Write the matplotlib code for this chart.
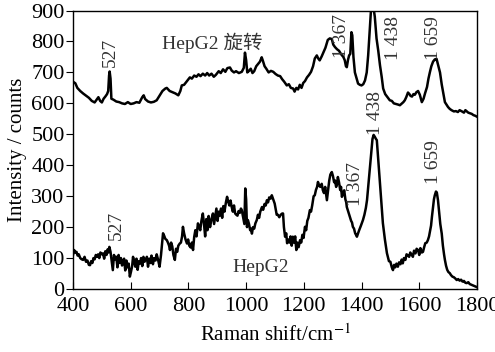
import matplotlib
matplotlib.use('Agg')
import matplotlib.pyplot as plt

plt.rcParams['font.family'] = ['Liberation Serif', 'Noto Sans CJK SC']
plt.rcParams['mathtext.fontset'] = 'stix'

# 上方曲线: HepG2 旋转
top_x = [400, 408, 415, 425, 435, 445, 455, 465, 475, 482, 488, 494, 500, 506, 512, 518, 522, 525, 527, 530,
         533, 540, 550, 560, 570, 580, 590, 600, 610, 620, 630, 640, 645, 650, 660, 670, 680, 690, 700, 710,
         720, 725, 735, 745, 755, 765, 772, 777, 785, 795, 805, 812, 820, 828, 835, 842, 850, 858, 865, 872,
         880, 888, 895, 905, 912, 920, 928, 935, 944, 950, 958, 965, 975, 985, 992, 996, 1000, 1004, 1010, 1016,
         1022, 1028, 1035, 1042, 1048, 1054, 1058, 1064, 1070, 1078, 1086, 1094, 1102, 1110, 1118, 1125, 1132, 1141, 1148, 1155,
         1163, 1168, 1174, 1180, 1186, 1192, 1198, 1204, 1211, 1218, 1225, 1232, 1238, 1245, 1250, 1255, 1262, 1268, 1275, 1283,
         1290, 1297, 1302, 1308, 1315, 1322, 1330, 1337, 1342, 1346, 1349, 1353, 1357, 1361, 1365, 1368, 1372, 1377, 1383, 1388,
         1394, 1400, 1406, 1412, 1418, 1423, 1428, 1433, 1440, 1446, 1452, 1458, 1464, 1470, 1475, 1482, 1490, 1498, 1505, 1512,
         1520, 1527, 1533, 1540, 1545, 1550, 1555, 1561, 1566, 1570, 1575, 1580, 1585, 1590, 1596, 1602, 1609, 1615, 1620, 1627,
         1632, 1637, 1642, 1648, 1654, 1660, 1665, 1672, 1678, 1684, 1689, 1695, 1700, 1706, 1712, 1720, 1727, 1734, 1740, 1748,
         1755, 1760, 1765, 1770, 1776, 1782, 1788, 1794, 1800]
top_y = [670, 665, 650, 640, 632, 625, 618, 608, 603, 612, 620, 608, 603, 615, 622, 630, 640, 690, 703, 680,
         615, 612, 606, 604, 600, 598, 604, 598, 600, 604, 602, 620, 626, 614, 606, 603, 605, 610, 625, 640,
         648, 650, 640, 636, 632, 626, 640, 658, 660, 672, 684, 680, 690, 686, 694, 688, 696, 690, 698, 690,
         696, 686, 692, 704, 698, 710, 702, 714, 716, 706, 700, 704, 698, 702, 715, 764, 740, 700, 705, 712,
         698, 704, 720, 728, 735, 749, 738, 720, 712, 700, 705, 702, 695, 690, 688, 678, 670, 658, 662, 650,
         648, 638, 650, 645, 660, 650, 666, 672, 684, 692, 702, 720, 745, 755, 745, 739, 752, 765, 780, 805,
         810, 808, 790, 782, 775, 770, 758, 750, 739, 720, 717, 740, 755, 760, 830, 820, 750, 700, 680, 664,
         660, 658, 662, 674, 700, 755, 830, 905, 920, 880, 810, 770, 723, 685, 648, 630, 620, 610, 608, 600,
         598, 596, 594, 600, 604, 610, 620, 635, 630, 624, 622, 630, 628, 636, 640, 628, 604, 615, 632, 653,
         680, 701, 720, 735, 742, 744, 726, 700, 661, 630, 604, 595, 588, 582, 578, 574, 575, 572, 578, 574,
         570, 578, 574, 570, 568, 566, 562, 560, 557]

# 下方曲线: HepG2
bot_x = [400, 404, 408, 412, 416, 420, 425, 430, 435, 440, 445, 450, 455, 459, 463, 467, 471, 475, 479, 483,
         487, 491, 495, 500, 504, 508, 512, 516, 520, 523, 526, 530, 534, 538, 542, 546, 550, 554, 558, 562,
         566, 570, 573, 577, 581, 585, 589, 593, 597, 601, 605, 608, 612, 616, 620, 624, 628, 632, 636, 640,
         644, 648, 652, 656, 660, 664, 668, 672, 677, 681, 686, 690, 695, 700, 705, 709, 712, 716, 720, 725,
         729, 733, 736, 740, 744, 748, 753, 757, 761, 765, 770, 774, 778, 781, 785, 790, 795, 799, 803, 808,
         812, 816, 820, 824, 828, 833, 837, 841, 845, 850, 854, 858, 862, 866, 870, 875, 880, 885, 889, 893,
         897, 901, 905, 909, 913, 917, 921, 925, 930, 934, 938, 942, 946, 950, 954, 958, 962, 966, 970, 974,
         978, 982, 985, 990, 994, 997, 1000, 1003, 1006, 1010, 1014, 1018, 1020, 1024, 1028, 1032, 1037, 1041, 1045, 1049,
         1055, 1059, 1064, 1068, 1072, 1076, 1080, 1085, 1089, 1094, 1099, 1103, 1106, 1110, 1115, 1120, 1125, 1128, 1131, 1135,
         1139, 1142, 1146, 1150, 1154, 1158, 1162, 1166, 1170, 1174, 1178, 1182, 1187, 1191, 1195, 1199, 1204, 1208, 1212, 1216,
         1221, 1225, 1229, 1234, 1238, 1242, 1246, 1249, 1253, 1257, 1262, 1266, 1270, 1274, 1280, 1284, 1288, 1292, 1297, 1301,
         1305, 1308, 1312, 1315, 1318, 1322, 1326, 1329, 1332, 1336, 1340, 1344, 1347, 1349, 1354, 1357, 1360, 1364, 1367, 1370,
         1374, 1378, 1381, 1384, 1388, 1391, 1394, 1398, 1402, 1405, 1410, 1415, 1419, 1424, 1429, 1434, 1438, 1442, 1446, 1450,
         1453, 1457, 1464, 1469, 1474, 1481, 1488, 1495, 1500, 1505, 1509, 1513, 1517, 1521, 1526, 1530, 1535, 1539, 1543, 1547,
         1552, 1556, 1561, 1565, 1569, 1573, 1578, 1582, 1587, 1591, 1596, 1600, 1604, 1609, 1613, 1617, 1621, 1626, 1630, 1634,
         1638, 1641, 1644, 1648, 1651, 1654, 1658, 1661, 1665, 1669, 1673, 1678, 1682, 1686, 1689, 1693, 1697, 1701, 1706, 1710,
         1715, 1720, 1725, 1730, 1735, 1740, 1745, 1750, 1755, 1760, 1765, 1770, 1775, 1780, 1785, 1790, 1795, 1800]
bot_y = [110, 126, 118, 120, 108, 112, 100, 96, 94, 104, 88, 92, 78, 77, 90, 84, 100, 96, 110, 104,
         112, 100, 118, 112, 115, 98, 122, 110, 128, 118, 136, 120, 90, 61, 110, 96, 104, 70, 110, 84,
         100, 76, 88, 98, 60, 92, 70, 82, 40, 56, 74, 104, 90, 72, 98, 62, 90, 82, 100, 74,
         104, 88, 96, 104, 72, 98, 84, 108, 80, 100, 92, 112, 94, 72, 110, 150, 180, 172, 162, 158,
         150, 140, 126, 150, 138, 110, 94, 130, 120, 140, 147, 150, 170, 201, 180, 160, 147, 160, 140, 134,
         150, 126, 168, 190, 170, 212, 200, 190, 220, 244, 210, 170, 226, 190, 236, 200, 226, 244, 210, 236,
         260, 220, 250, 237, 260, 230, 268, 250, 280, 298, 282, 270, 286, 265, 250, 270, 244, 240, 237, 252,
         246, 260, 255, 230, 210, 325, 290, 200, 223, 210, 190, 195, 179, 200, 195, 212, 223, 240, 230, 250,
         265, 256, 275, 270, 287, 280, 296, 292, 303, 290, 276, 255, 240, 240, 232, 240, 244, 244, 200, 169,
         180, 148, 160, 150, 170, 140, 169, 150, 170, 126, 150, 135, 158, 150, 175, 165, 201, 190, 220, 230,
         255, 250, 270, 300, 303, 320, 330, 346, 335, 330, 340, 319, 310, 330, 287, 320, 350, 370, 378, 365,
         345, 351, 330, 340, 362, 345, 320, 330, 298, 310, 319, 290, 280, 265, 250, 240, 233, 220, 215, 201,
         195, 180, 175, 169, 180, 188, 195, 205, 215, 223, 240, 262, 287, 340, 394, 450, 485, 498, 492, 485,
         481, 430, 342, 280, 213, 160, 116, 90, 88, 70, 61, 78, 70, 82, 72, 86, 80, 95, 83, 100,
         94, 112, 109, 104, 118, 112, 104, 124, 115, 130, 126, 110, 132, 118, 120, 135, 148, 150, 158, 170,
         190, 205, 233, 265, 290, 303, 315, 312, 287, 250, 210, 179, 140, 112, 94, 75, 62, 55, 51, 45,
         40, 38, 34, 29, 32, 27, 30, 24, 26, 20, 19, 22, 16, 14, 12, 10, 8, 6]

# 峰标注: (文字, x, y)
peak_labels = [('527', 528, 765), ('1 367', 1330, 819), ('1 438', 1511, 811), ('1 659', 1649, 811),
               ('527', 549, 206), ('1 367', 1379, 340), ('1 438', 1448, 569), ('1 659', 1649, 411)]

fig = plt.figure(figsize=(4.95, 3.52), dpi=100)
ax = fig.add_axes([0.1475, 0.179, 0.816, 0.791])

ax.plot(top_x, top_y, color='black', lw=1.8)
ax.plot(bot_x, bot_y, color='black', lw=1.8)

for txt, x, y in peak_labels:
    ax.text(x, y, txt, rotation=90, ha='center', va='center', fontsize=14, color='#333333')

ax.text(708, 797, 'HepG2 旋转', fontsize=14, color='#333333', va='center')
ax.text(951, 68, 'HepG2', fontsize=14, color='#333333', va='center')

ax.set_xlim(400, 1800)
ax.set_ylim(0, 900)
ax.set_xticks(range(400, 1801, 200))
ax.set_yticks(range(0, 901, 100))
ax.tick_params(axis='x', direction='in', length=5, pad=6, labelsize=16)
ax.tick_params(axis='y', direction='out', length=5, pad=1, labelsize=16)
for s in ax.spines.values():
    s.set_linewidth(1.0)

ax.set_xlabel('Raman shift/cm$^{-1}$', fontsize=15, labelpad=6)
ax.set_ylabel('Intensity / counts', fontsize=15, labelpad=3)

fig.savefig('out.png', dpi=100)
